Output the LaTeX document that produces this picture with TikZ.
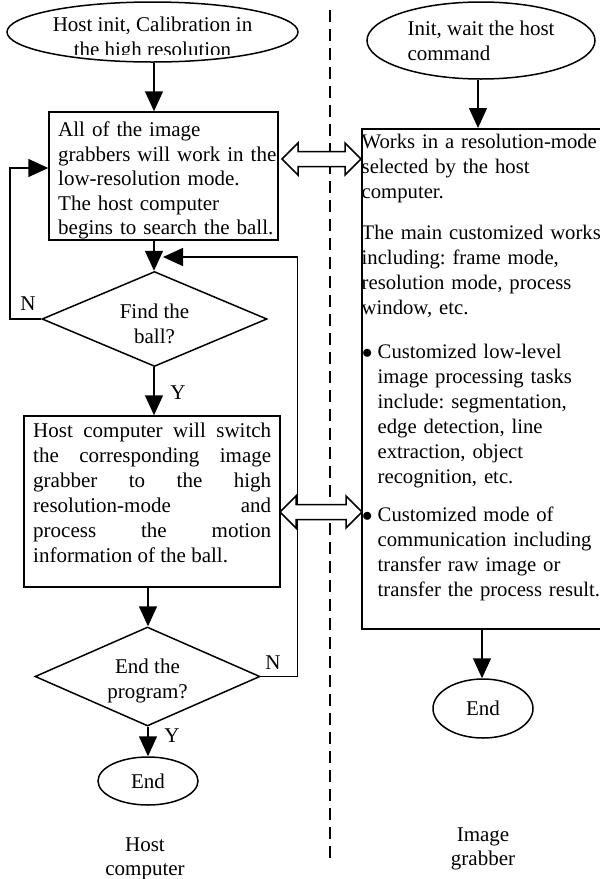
\documentclass[tikz,border=0pt]{standalone}
\usepackage{fontspec}
\setmainfont{Liberation Serif}
\setlength{\parindent}{0pt}
\frenchspacing
\usetikzlibrary{shapes.geometric,arrows.meta,calc}

% hollow two-headed block arrow between two named points on one horizontal line
\newcommand{\dualarrow}[2]{%
  \draw[hollow] (#1) -- ($(#1)+(16,-16)$) -- ($(#1)+(16,-7.5)$)
    -- ($(#2)+(-16,-7.5)$) -- ($(#2)+(-16,-16)$) -- (#2)
    -- ($(#2)+(-16,16)$) -- ($(#2)+(-16,7.5)$)
    -- ($(#1)+(16,7.5)$) -- ($(#1)+(16,16)$) -- cycle;}

% bullet mark for the grabber task list
\newcommand{\taskmark}{\makebox[16pt][l]{\hspace{0.5pt}$\bullet$}}

\begin{document}
\begin{tikzpicture}[x=1pt,y=-1pt,
  every node/.style={font=\fontsize{21}{25}\selectfont\frenchspacing, inner sep=0pt},
  flow/.style={line width=1.5pt, -{Triangle[length=20pt,width=18pt]}},
  oval/.style={draw, line width=1.5pt, ellipse},
  box/.style={draw, line width=1.5pt, rectangle},
  decision/.style={draw, line width=1.5pt, diamond},
  hollow/.style={draw, line width=1.5pt, fill=white, line join=miter},
  divider/.style={line width=2pt, dash pattern=on 12pt off 7pt}]
\useasboundingbox (0,0) rectangle (600,879);

% lane divider between host and grabber
\coordinate (divTop) at (330,10);
\coordinate (divBot) at (330,862);
\draw[divider] (divTop) -- (divBot);

% ---------- host computer lane ----------
\node[oval, minimum width=291pt, minimum height=60pt] (e1) at (152.5,32) {};
\begin{scope}
  \clip (0,0) rectangle (300,54.5);
  \node[align=center] (e1t) at ($(e1)+(0,7)$) {Host init, Calibration in\\the high resolution};
\end{scope}

\node[box, minimum width=229pt, minimum height=128pt] (b1) at (163.5,176) {};
\node[anchor=north west, align=left, text width=220pt,
      font=\fontsize{21}{24.5}\selectfont\frenchspacing] (b1t) at (58,121.7)
  {All of the image\\grabbers will work in the\\low-resolution mode.\\The host computer\\begins to search the ball.};

\node[decision, minimum width=225pt, minimum height=95pt] (d1) at (154.5,319) {};
\node[align=center] (d1t) at ($(d1)+(0,4.5)$) {Find the\\ball?};

\node[box, minimum width=256pt, minimum height=171pt] (b2) at (152,501.5) {};
\node[anchor=north west, text width=238pt, align=justify] (b2t) at (33,422.5)
  {Host computer will switch\linebreak the corresponding image\linebreak grabber to the high\linebreak resolution-mode and\linebreak process the motion\linebreak information of the ball.};

\node[decision, minimum width=225pt, minimum height=99pt] (d2) at (147.5,676.5) {};
\node[align=center] (d2t) at ($(d2)+(0,4)$) {End the\\program?};

\node[oval, minimum width=100pt, minimum height=48pt] (end1) at (148,781) {End};

\node[anchor=north, align=center, font=\fontsize{21}{24}\selectfont] (hostlbl) at (145,837.6) {Host\\computer};

% labels on the decision branches
\node (n1) at (28,304) {N};
\node (y1) at (178,393) {Y};
\node (n2) at (273,663) {N};
\node (y2) at (172,736) {Y};

% host connectors
\coordinate (colA) at (154,0);
\coordinate (colB) at (148,0);
\draw[flow] (e1.south -| colA) -- (b1.north -| colA);
\draw[flow] (b1.south -| colA) -- (d1.north -| colA);
\draw[flow] (d1.south -| colA) -- (b2.north -| colA);
\draw[flow] (b2.south -| colB) -- (d2.north -| colB);
\draw[flow] (d2.south -| colB) -- (end1.north -| colB);

\coordinate (loopL) at (10,168);
\draw[flow] (d1.west) -| (loopL) -- (loopL -| b1.west);

\coordinate (loopR) at (297.5,257);
\coordinate (backIn) at (163,257);
\draw[flow] (d2.east) -| (loopR) -- (backIn);

% ---------- image grabber lane ----------
\node[oval, minimum width=228pt, minimum height=77pt, align=left] (e2) at (481,40.5) {Init, wait the host\\command};

\node[box, minimum width=251pt, minimum height=500pt, anchor=north west] (rb) at (361,128) {};
\node[anchor=north west, text width=245pt,
      font=\fontsize{20.7}{25}\selectfont\frenchspacing] (rbt) at (361.5,134.2) {%
Works in a resolution-mode\newline selected by the host\newline computer.\par
\vspace{16pt}%
The main customized works\newline including: frame mode,\newline resolution mode, process\newline window, etc.\par
\vspace{19pt}%
\hangindent=16pt\hangafter=1 \taskmark Customized low-level\newline image processing tasks\newline include: segmentation,\newline edge detection, line\newline extraction, object\newline recognition, etc.\par
\vspace{13pt}%
\hangindent=16pt\hangafter=1 \taskmark Customized mode of\newline communication including\newline transfer raw image or\newline transfer the process result.\par};

\node[oval, minimum width=100pt, minimum height=59pt] (end2) at (483,708.5) {End};

\node[anchor=north, align=center, font=\fontsize{21}{24}\selectfont] (grablbl) at (483,827.8) {Image\\grabber};

\coordinate (colC) at (478,0);
\coordinate (colD) at (482,0);
\draw[flow] (e2.south -| colC) -- (rb.north -| colC);
\draw[flow] (rb.south -| colD) -- (end2.north -| colD);

% ---------- data exchange between the lanes ----------
\coordinate (h1l) at (282,159);
\coordinate (h1r) at (361,159);
\dualarrow{h1l}{h1r}
\coordinate (h2l) at (280,512);
\coordinate (h2r) at (362,512);
\dualarrow{h2l}{h2r}

\end{tikzpicture}
\end{document}
